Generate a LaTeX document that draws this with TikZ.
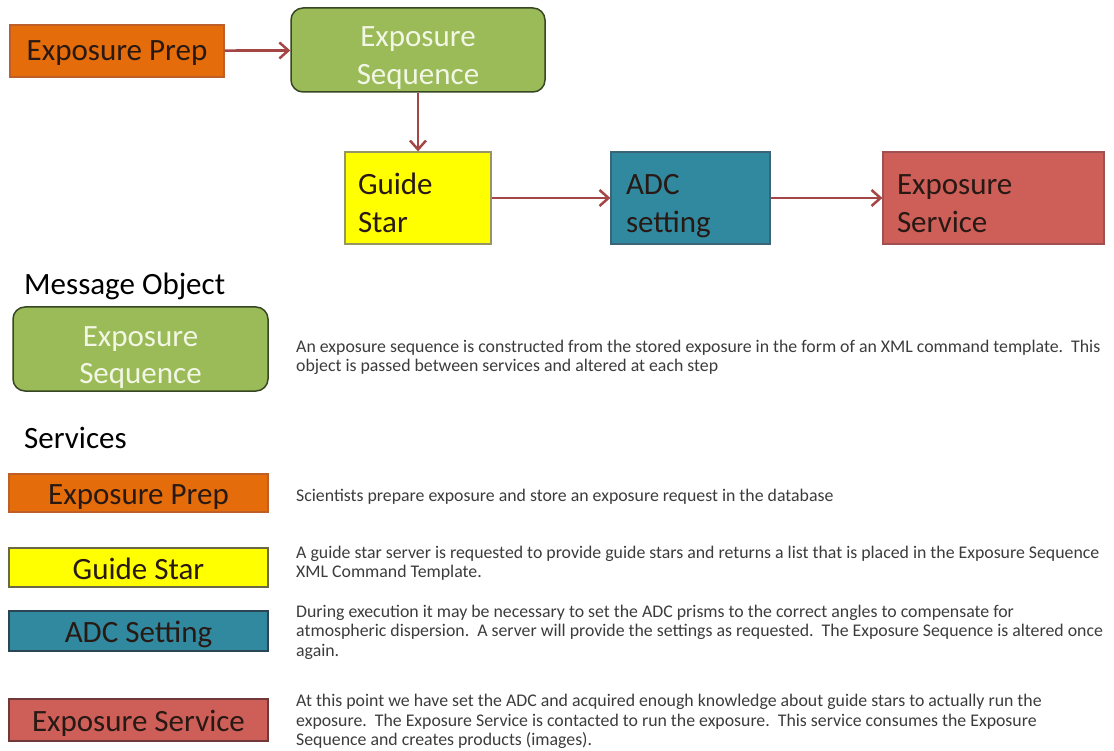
\documentclass[tikz,border=0pt]{standalone}
\usepackage{fontspec}
\setmainfont{Carlito}
\usetikzlibrary{arrows.meta}
\definecolor{cOrange}{RGB}{228,108,10}
\definecolor{cOrangeB}{RGB}{190,95,40}
\definecolor{cGreen}{RGB}{155,187,89}
\definecolor{cGreenB}{RGB}{55,70,35}
\definecolor{cYellow}{RGB}{255,255,0}
\definecolor{cYellowB}{RGB}{150,150,100}
\definecolor{cTeal}{RGB}{49,137,160}
\definecolor{cTealB}{RGB}{60,100,120}
\definecolor{cRed}{RGB}{205,95,88}
\definecolor{cRedB}{RGB}{160,80,80}
\definecolor{cArrow}{RGB}{165,70,70}
\definecolor{cDark}{RGB}{40,25,20}
\definecolor{cDesc}{RGB}{60,60,60}
\definecolor{cLight}{RGB}{242,246,228}
\newcommand{\firststrut}{\rule{0pt}{14pt}}
\tikzset{
  bigfont/.style={font=\fontsize{31}{38}\selectfont},
  box/.style={draw, line width=1.2pt, inner sep=0pt, bigfont, text=cDark},
  oneline/.style={text height=22pt, text depth=2pt},
  flowbox/.style={box, text height=28pt, text depth=34pt, align=left, anchor=center},
  seqbox/.style={draw=cGreenB, fill=cGreen, line width=1.5pt, rounded corners=12pt,
    inner sep=0pt, minimum width=254pt, minimum height=84pt, bigfont,
    text height=72pt, text depth=2pt, text=cLight, align=center},
  legbox/.style={box, text height=25pt, text depth=2pt, line width=1.5pt, minimum width=259pt, align=center},
  flow/.style={draw=cArrow, line width=2.7pt, -{Straight Barb[length=9pt,width=16pt,line width=2.5pt]}},
  desc/.style={anchor=north west, inner sep=0pt, align=left, text=cDesc,
    font=\fontsize{17.8}{19.6}\selectfont},
  heading/.style={anchor=west, inner sep=0pt, font=\fontsize{31}{38}\selectfont, text=black}
}
\begin{document}
\begin{tikzpicture}[x=1pt,y=-1pt]
\useasboundingbox (0,0) rectangle (1114,751);
\fill[white] (0,0) rectangle (1114,751);
% flow
\node[box, oneline, draw=cOrangeB, fill=cOrange, minimum width=214pt, minimum height=52pt] (prep) at (117,51) {Exposure Prep};
\node[seqbox] (seq) at (418,50) {Exposure\\Sequence};
\node[flowbox, draw=cYellowB, fill=cYellow, minimum width=146pt, minimum height=92pt, text width=120pt] (gs) at (418,198) {Guide\\Star};
\node[flowbox, draw=cTealB, fill=cTeal, minimum width=159pt, minimum height=92pt, text width=129pt] (adc) at (690.5,198) {ADC\\setting};
\node[flowbox, draw=cRedB, fill=cRed, minimum width=221pt, minimum height=92pt, text width=193pt] (es) at (993.5,198) {Exposure\\Service};
\draw[flow] (prep) -- (seq);
\draw[flow] (seq) -- (gs);
\draw[flow] (gs) -- (adc);
\draw[flow] (adc) -- (es);
% legend
\node[heading] (mo) at (24,286) {Message Object};
\node[seqbox, minimum width=255pt] (seqL) at (140.5,349) {Exposure\\Sequence};
\node[desc] (d1) at (296,338) {\firststrut An exposure sequence is constructed from the stored exposure in the form of an XML command template.\ \ This\\object is passed between services and altered at each step};
\node[heading] (sv) at (24,438) {Services};
\node[legbox, draw=cOrangeB, fill=cOrange, minimum height=38pt] (prepL) at (138.5,493) {Exposure Prep};
\node[desc] (d2) at (296,487) {\firststrut Scientists prepare exposure and store an exposure request in the database};
\node[legbox, draw=cYellowB!70!black, fill=cYellow, minimum height=39pt] (gsL) at (138.5,567.5) {Guide Star};
\node[desc] (d3) at (296,544) {\firststrut A guide star server is requested to provide guide stars and returns a list that is placed in the Exposure Sequence\\XML Command Template.};
\node[legbox, draw=cTealB!70!black, fill=cTeal, minimum height=40pt] (adcL) at (138.5,631) {ADC Setting};
\node[desc] (d4) at (296,603) {\firststrut During execution it may be necessary to set the ADC prisms to the correct angles to compensate for\\atmospheric dispersion.\ \ A server will provide the settings as requested.\ \ The Exposure Sequence is altered once\\again.};
\node[legbox, draw=cRedB!70!black, fill=cRed, minimum height=42pt] (esL) at (138.5,720) {Exposure Service};
\node[desc] (d5) at (296,692.5) {\firststrut At this point we have set the ADC and acquired enough knowledge about guide stars to actually run the\\exposure.\ \ The Exposure Service is contacted to run the exposure.\ \ This service consumes the Exposure\\Sequence and creates products (images).};
\end{tikzpicture}
\end{document}
